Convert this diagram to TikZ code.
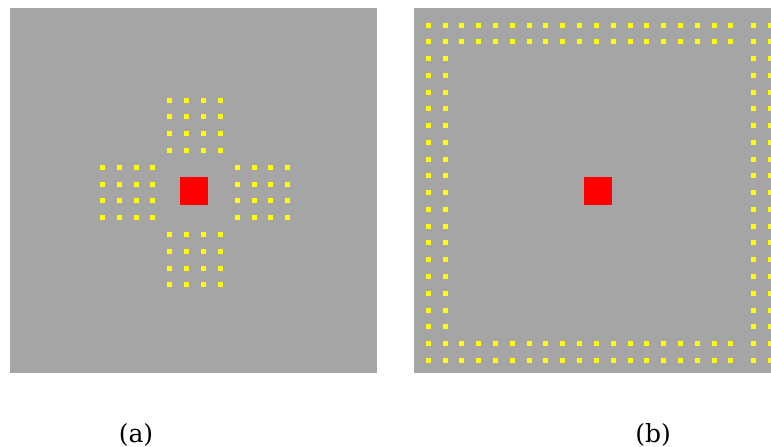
\documentclass[tikz,border=0pt]{standalone}
\usepackage{fontspec}
\setmainfont{DejaVu Serif}
\definecolor{panelgray}{RGB}{165,165,165}
\definecolor{dotyellow}{RGB}{255,255,0}
\definecolor{targetred}{RGB}{255,0,0}

\begin{document}
\begin{tikzpicture}[x=1pt,y=-1pt,
  panel/.style={fill=panelgray},
  spot/.style={fill=dotyellow},
  target/.style={fill=targetred},
  caption/.style={font=\fontsize{25}{30}\selectfont,anchor=base}]

\useasboundingbox (0,0) rectangle (771,447);
\clip (0,0) rectangle (771,447);

% ===== PANEL (a): cross of 4x4 dot blocks =====
\fill[panel] (10,8) rectangle (377,373);
\fill[target] (180,177) rectangle (208,205);
\foreach \cx/\cy in {195/125.2,127.7/192.5,262.4/192.5,195/259.7}{
  \foreach \i in {-1.5,-0.5,0.5,1.5}{
    \foreach \j in {-1.5,-0.5,0.5,1.5}{
      \fill[spot] ({\cx+16.8*\i-2.5},{\cy+16.8*\j-2.5}) rectangle +(5,5);
    }
  }
}
\node[caption] (capa) at (136,442) {(a)};

% ===== PANEL (b): double ring of dots =====
\fill[panel] (414,8) rectangle (781,373);
\fill[target] (583.5,176.6) rectangle (612,205);
% top and bottom rows
\foreach \k in {0,...,18}{
  \foreach \y in {25,41.7,343.6,360.3}{
    \fill[spot] ({428.3+16.81*\k-2.5},{\y-2.5}) rectangle +(5,5);
  }
}
% left and right columns
\foreach \k in {0,...,20}{
  \foreach \x in {428.3,445,753.3,770}{
    \fill[spot] ({\x-2.5},{25+16.765*\k-2.5}) rectangle +(5,5);
  }
}
\node[caption] (capb) at (653,442) {(b)};

\end{tikzpicture}
\end{document}
